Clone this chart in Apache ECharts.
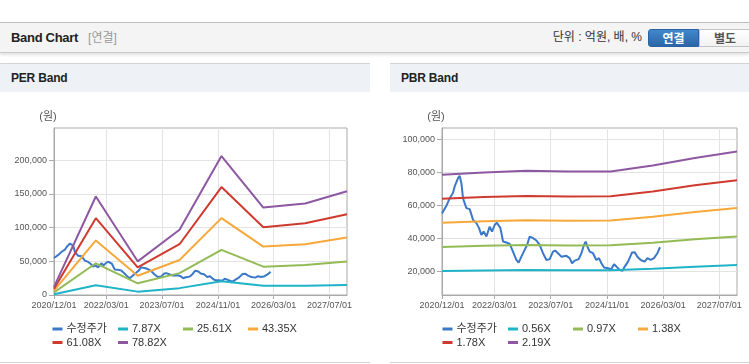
<!DOCTYPE html>
<html>
<head>
<meta charset="utf-8">
<script src="https://cdn.jsdelivr.net/npm/echarts@6/dist/echarts.min.js"></script>
<style>
html,body{margin:0;padding:0;background:#fff;width:749px;height:364px;overflow:hidden;font-family:'Liberation Sans','Noto Sans CJK KR',sans-serif;}
#topbar{position:absolute;left:0;top:22px;width:749px;height:29px;background:#f4f4f4;border-top:1px solid #bdbdbd;border-bottom:1px solid #c9c9c9;box-shadow:0 2px 3px rgba(0,0,0,0.12);}
#title{position:absolute;left:11px;top:0;line-height:29px;font-weight:bold;font-size:13px;color:#222;letter-spacing:-0.3px;}
#title span{font-weight:normal;color:#999;font-size:12px;margin-left:10px;letter-spacing:0;}
#unit{position:absolute;right:107px;top:0;line-height:29px;font-size:12px;color:#333;}
.btn{position:absolute;top:6px;height:18px;line-height:18px;width:51px;text-align:center;font-size:12px;font-weight:bold;box-sizing:border-box;}
#btn1{left:648px;background:linear-gradient(#4287cc,#2a66a8);color:#fff;border-radius:3px 0 0 3px;border:1px solid #2a62a0;}
#btn2{left:699px;width:52px;background:linear-gradient(#ffffff,#f2f2f2);color:#555;border:1px solid #c4c4c4;}
.panel{position:absolute;top:63px;height:298px;border-top:1px solid #d4d4d4;border-bottom:1px solid #d4d4d4;background:#fff;}
.phead{height:28px;background:#eef2f7;line-height:28px;padding-left:11px;font-weight:bold;font-size:12px;color:#222;letter-spacing:-0.2px;}
#chart{position:absolute;left:0;top:0;width:749px;height:364px;z-index:2;}
</style>
</head>
<body>
<div id="topbar">
  <div id="title">Band Chart<span>[연결]</span></div>
  <div id="unit">단위 : 억원, 배, %</div>
  <div class="btn" id="btn1">연결</div>
  <div class="btn" id="btn2">별도</div>
</div>
<div class="panel" style="left:0;width:370px;"><div class="phead">PER Band</div></div>
<div class="panel" style="left:390px;width:359px;"><div class="phead">PBR Band</div></div>
<div id="chart"></div>
<script>
// ---------- data ----------
const xTickLabels = ['2020/12/01','2022/03/01','2023/07/01','2024/11/01','2026/03/01','2027/07/01'];
const xAxisStart = '2020/12/01';
const xAxisEnd = '2027/12/01';

const perYTicks = [0, 50000, 100000, 150000, 200000];
const pbrYTicks = [20000, 40000, 60000, 80000, 100000];

const priceName = '수정주가';
const priceDates = [
 '2020-12-01','2021-01-08','2021-02-06','2021-03-06','2021-03-21','2021-04-19','2021-05-03','2021-05-18',
 '2021-06-01','2021-06-30','2021-07-29','2021-08-27','2021-09-25','2021-10-18','2021-11-07','2021-11-27',
 '2021-12-21','2022-01-18','2022-02-07','2022-03-03','2022-03-22','2022-04-21','2022-05-14','2022-06-12',
 '2022-07-11','2022-08-08','2022-09-06','2022-09-26','2022-10-20','2022-11-17','2022-12-08','2022-12-31',
 '2023-01-29','2023-02-27','2023-03-27','2023-04-25','2023-05-25','2023-06-22','2023-07-21','2023-08-08',
 '2023-09-02','2023-10-01','2023-11-14','2023-12-12','2024-01-02','2024-01-25','2024-02-28','2024-03-23',
 '2024-04-14','2024-04-29','2024-05-14','2024-06-03','2024-07-01','2024-07-30','2024-08-22','2024-09-12',
 '2024-10-05','2024-11-08','2024-12-07','2024-12-30','2025-01-20','2025-02-18','2025-03-13','2025-04-02',
 '2025-05-01','2025-06-04','2025-06-28','2025-07-21','2025-08-19','2025-09-22','2025-10-16','2025-11-13',
 '2025-12-12','2026-01-10','2026-02-02'
];
const priceValues = [
 55000,59600,64200,67300,71300,76400,77800,73300,
 64200,58200,57600,51100,49100,46100,42000,44000,
 41000,47000,44000,48100,49300,46100,38000,37400,
 36500,31900,26900,25200,28800,32900,35900,41000,
 40000,38600,35900,30900,26800,27300,31900,32500,
 30900,28800,29300,27900,24800,26400,27300,30900,
 35900,37900,34900,31900,30900,26800,27900,24800,
 22200,21800,21200,24200,22800,20800,20200,22800,
 25800,31300,31500,28800,26800,25800,27900,26800,
 27900,30900,34500
];

const bandDates = ['2020-12-01','2021-12-01','2022-12-01','2023-12-01','2024-12-01','2025-12-01','2026-12-01','2027-12-01'];

const perNames = ['7.87X','25.61X','43.35X','61.08X','78.82X'];
const per_7_87  = [1200, 14500, 5000, 10200, 20300, 13600, 13800, 14900];
const per_25_61 = [3900, 47100, 17400, 32500, 67000, 42100, 44400, 49600];
const per_43_35 = [6600, 81000, 28500, 52000, 114100, 71900, 75500, 85300];
const per_61_08 = [9300, 114100, 41000, 75400, 160300, 100700, 106500, 120000];
const per_78_82 = [12000, 146300, 50000, 97000, 206300, 129900, 136000, 154000];

const pbrNames = ['0.56X','0.97X','1.38X','1.78X','2.19X'];
const pbr_0_56 = [20100, 20500, 20700, 20600, 20600, 21500, 22700, 23800];
const pbr_0_97 = [34700, 35400, 35800, 35600, 35700, 37200, 39300, 41000];
const pbr_1_38 = [49400, 50300, 50900, 50600, 50700, 53000, 55800, 58200];
const pbr_1_78 = [63800, 64900, 65600, 65300, 65400, 68300, 72000, 75000];
const pbr_2_19 = [78400, 79800, 80800, 80300, 80400, 84000, 88500, 92500];

// ---------- chart ----------
const FONT = "'Liberation Sans','Noto Sans CJK KR',sans-serif";
const colors = {price:'#3a78c8', c1:'#1fb3c8', c2:'#93bb55', c3:'#f6a83a', c4:'#cf3a2f', c5:'#8d58a1'};
const bandColors = [colors.c1, colors.c2, colors.c3, colors.c4, colors.c5];

function toTs(s){ const p = s.split(/[\/-]/).map(Number); return new Date(p[0], p[1]-1, p[2]).getTime(); }
function pad(n){ return (n<10?'0':'') + n; }
function fmtDate(v){ const d = new Date(v); return d.getFullYear() + '/' + pad(d.getMonth()+1) + '/' + pad(d.getDate()); }
const xTickTs = xTickLabels.map(toTs);

function zip(dates, vals){ return dates.map((d,i)=>[toTs(d), vals[i]]); }

function mkX(gi){
  return {
    type:'value', gridIndex:gi, min:toTs(xAxisStart), max:toTs(xAxisEnd), scale:true,
    axisLine:{show:true, lineStyle:{color:'#a9a9a9', width:1}},
    axisTick:{show:true, length:4, customValues:xTickTs, lineStyle:{color:'#a9a9a9'}},
    axisLabel:{customValues:xTickTs, formatter:(v)=>fmtDate(v), fontSize:9, color:'#555', margin:6, fontFamily:FONT, hideOverlap:false, showMinLabel:true, showMaxLabel:true},
    splitLine:{show:true, lineStyle:{color:'#e3e3e3', width:1}}
  };
}
function mkY(gi, min, max, ticks){
  return {
    type:'value', gridIndex:gi, min:min, max:max,
    name:'(원)', nameLocation:'end', nameGap:6,
    nameTextStyle:{fontSize:11, color:'#555', fontFamily:FONT, align:'center', padding:[0,12,0,0]},
    axisLine:{show:true, lineStyle:{color:'#a9a9a9', width:1}},
    axisTick:{show:true, length:5, customValues:ticks, lineStyle:{color:'#a9a9a9'}},
    axisLabel:{customValues:ticks, fontSize:9, color:'#555', margin:7, fontFamily:FONT},
    splitLine:{show:true, lineStyle:{color:'#e3e3e3', width:1}}
  };
}
function lineSeries(name, gi, data, color){
  return {name:name, type:'line', xAxisIndex:gi, yAxisIndex:gi, data:data, showSymbol:false, symbol:'none',
    lineStyle:{width:2, color:color}, itemStyle:{color:color}, emphasis:{disabled:true}, z:2};
}

const perBands = [per_7_87, per_25_61, per_43_35, per_61_08, per_78_82];
const pbrBands = [pbr_0_56, pbr_0_97, pbr_1_38, pbr_1_78, pbr_2_19];

const series = [];
series.push(lineSeries(priceName, 0, zip(priceDates, priceValues), colors.price));
perNames.forEach((n,i)=>series.push(lineSeries(n, 0, zip(bandDates, perBands[i]), bandColors[i])));
series.push(lineSeries(priceName, 1, zip(priceDates, priceValues), colors.price));
pbrNames.forEach((n,i)=>series.push(lineSeries(n, 1, zip(bandDates, pbrBands[i]), bandColors[i])));

// legends: 4 per row, fixed slots
const legends = [];
function addLegends(names, baseX){
  const colX = [0, 65.5, 130.5, 195.5];
  const rowY = [323.5, 337];
  names.forEach((n,i)=>{
    const r = Math.floor(i/4), c = i%4;
    legends.push({data:[n], left:baseX + colX[c], top:rowY[r], padding:0, itemGap:0,
      itemWidth:10, itemHeight:3, icon:'rect', selectedMode:false,
      textStyle:{fontSize:11, color:'#333', fontFamily:FONT, padding:[0,0,0,-1]}});
  });
}
addLegends([priceName].concat(perNames), 52.5);
addLegends([priceName].concat(pbrNames), 442.5);

const option = {
  animation:false,
  backgroundColor:'transparent',
  grid:[
    {left:54, top:128, width:293, height:167, show:true, borderColor:'#a9a9a9', borderWidth:1, backgroundColor:'transparent'},
    {left:442, top:128, width:295, height:167, show:true, borderColor:'#a9a9a9', borderWidth:1, backgroundColor:'transparent'}
  ],
  xAxis:[mkX(0), mkX(1)],
  yAxis:[mkY(0, 0, 248000, perYTicks), mkY(1, 5600, 106700, pbrYTicks)],
  legend:legends,
  series:series
};
const chart = echarts.init(document.getElementById('chart'), null, {renderer:'canvas'});
chart.setOption(option);
</script>
</body>
</html>
